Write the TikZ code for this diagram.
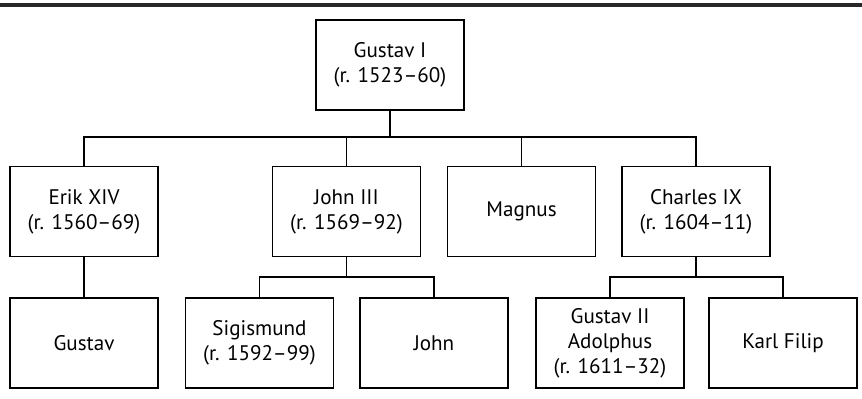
\documentclass[tikz,border=0pt]{standalone}
\usepackage{fontspec}
\setmainfont{PT Sans}
\usepackage{tikz}
\usetikzlibrary{calc}
\definecolor{rulegray}{RGB}{40,40,40}

\tikzset{
    person/.style={draw, line width=0.6pt, minimum width=2.96cm, minimum height=1.8cm,
        align=center, inner sep=0pt, font=\fontsize{12}{14.2}\selectfont},
    link/.style={line width=0.6pt}
}

\begin{document}
\begin{tikzpicture}
    \useasboundingbox (0,0) rectangle (17.24,7.98);

    % Top rule
    \draw[rulegray, line width=2.3pt] (0,7.88) -- (17.24,7.88);

    % Gustav I
    \node[person] (gustav1) at (7.8,6.68) {Gustav I\\(r. 1523--60)};

    % Sons
    \node[person] (erik) at (1.68,3.75) {Erik XIV\\(r. 1560--69)};
    \node[person] (john3) at (6.93,3.75) {John III\\(r. 1569--92)};
    \node[person] (magnus) at (10.43,3.75) {Magnus};
    \node[person] (charles9) at (13.92,3.75) {Charles IX\\(r. 1604--11)};

    % Grandsons
    \node[person] (gustav) at (1.68,1.12) {Gustav};
    \node[person] (sigismund) at (5.19,1.12) {Sigismund\\(r. 1592--99)};
    \node[person] (john) at (8.68,1.12) {John};
    \node[person] (gustav2) at (12.2,1.12) {Gustav II\\Adolphus\\(r. 1611--32)};
    \node[person] (karlfilip) at (15.66,1.12) {Karl Filip};

    % Connectors
    \coordinate (bus1) at (7.8,5.24);
    \draw[link] (gustav1.south) -- (bus1);
    \foreach \n in {erik,john3,magnus,charles9}
        \draw[link] (bus1) -| (\n.north);

    \draw[link] (erik.south) -- (gustav.north);

    \coordinate (bus2) at ($(john3.south)+(0,-0.4)$);
    \draw[link] (john3.south) -- (bus2);
    \foreach \n in {sigismund,john}
        \draw[link] (bus2) -| (\n.north);

    \coordinate (bus3) at ($(charles9.south)+(0,-0.4)$);
    \draw[link] (charles9.south) -- (bus3);
    \foreach \n in {gustav2,karlfilip}
        \draw[link] (bus3) -| (\n.north);
\end{tikzpicture}
\end{document}
